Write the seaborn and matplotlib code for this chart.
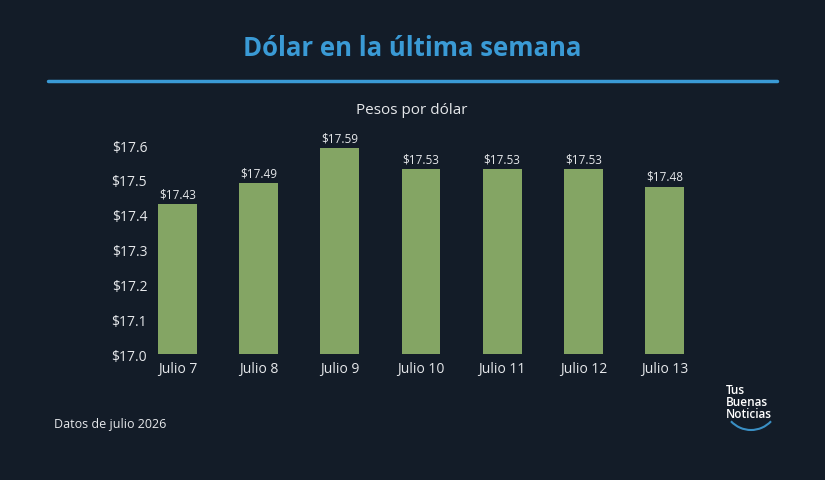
import matplotlib
matplotlib.use("Agg")
import matplotlib.pyplot as plt
import seaborn as sns
import pandas as pd
import numpy as np
from matplotlib.patches import Arc

categories = ["Julio 7", "Julio 8", "Julio 9", "Julio 10", "Julio 11", "Julio 12", "Julio 13"]
values = [17.43, 17.49, 17.59, 17.53, 17.53, 17.53, 17.48]
yticks = [17.0, 17.1, 17.2, 17.3, 17.4, 17.5, 17.6]

BG = "#131c28"
BAR = "#84a564"
BLUE = "#3a9ad5"
TXT = "#e6e8eb"

sns.set_theme(style="dark")
plt.rcParams["font.family"] = ["Open Sans", "DejaVu Sans"]

df = pd.DataFrame({"dia": categories, "valor": values})

fig = plt.figure(figsize=(8.25, 4.81), dpi=100, facecolor=BG)
ax = fig.add_axes([150/825, 1-355/481, (705-150)/825, (355-146)/481])
ax.set_facecolor(BG)

sns.barplot(data=df, x="dia", y="valor", color=BAR, width=0.48, ax=ax,
            saturation=1, edgecolor=BAR, linewidth=0)
ax.set_ylim(17.0, 17.6)
ax.set_xlim(-0.34, 6.5)
ax.set_yticks(yticks)
ax.set_yticklabels([f"${t:.1f}" for t in yticks], color=TXT, fontsize=10)
ax.tick_params(axis="x", colors=TXT, labelsize=10, length=0, pad=5)
ax.tick_params(axis="y", colors=TXT, length=0, pad=2)
for lab in ax.get_xticklabels():
    lab.set_color(TXT)
ax.set_xlabel("")
ax.set_ylabel("")
ax.grid(False)
for s in ax.spines.values():
    s.set_visible(False)

for i, v in enumerate(values):
    ax.annotate(f"${v:.2f}", (i, v), xytext=(0, 3), textcoords="offset points",
                ha="center", va="bottom", color=TXT, fontsize=8.5, clip_on=False)

fig.text(412/825, 1-48/481, "Dólar en la última semana", ha="center", va="center",
         color=BLUE, fontsize=18.5, fontweight="bold")
fig.add_artist(plt.Line2D([48/825, 777/825], [1-82/481, 1-82/481], color=BLUE, lw=2.5))
fig.text(412/825, 1-111/481, "Pesos por dólar", ha="center", va="center",
         color=TXT, fontsize=11)
fig.text(54/825, 1-425/481, "Datos de julio 2026", ha="left", va="center",
         color=TXT, fontsize=9)
fig.text(726/825, 1-402/481, "Tus\nBuenas\nNoticias", ha="left", va="center",
         color="white", fontsize=8.5, fontweight="semibold", linespacing=0.9)
arc = Arc((751/825, 1-402/481), 56/825, 58/481, theta1=240, theta2=300,
          transform=fig.transFigure, color="#3a8fc4", lw=1.5)
fig.add_artist(arc)

fig.savefig("out.png", dpi=100, facecolor=BG)
